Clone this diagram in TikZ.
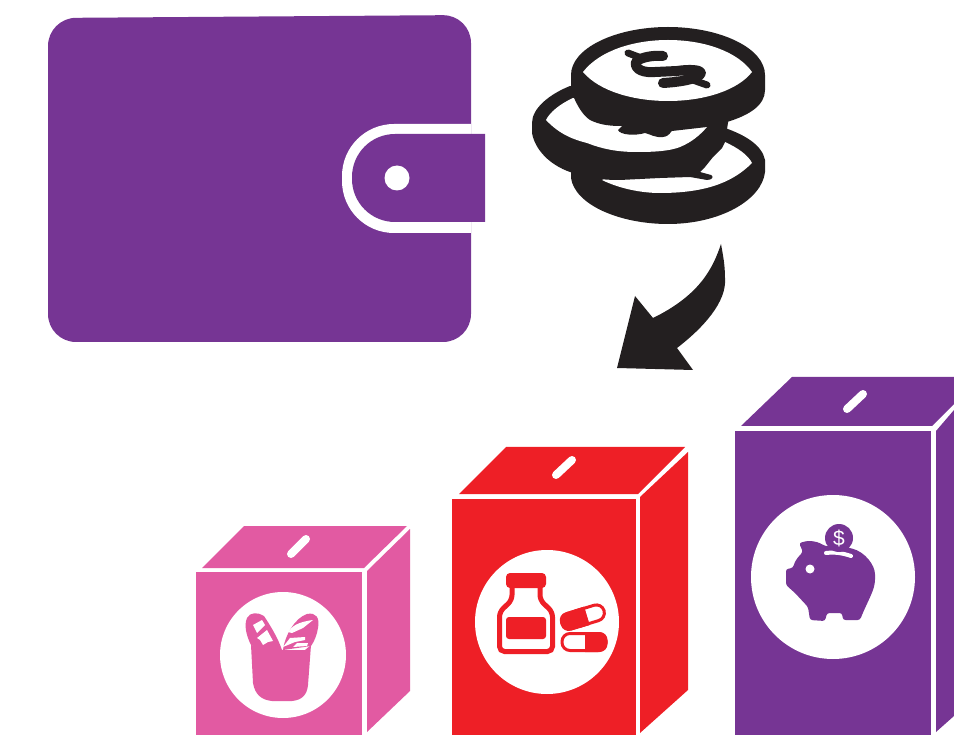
\documentclass[tikz,border=0pt]{standalone}
\usepackage{fontspec}
\setsansfont{Liberation Sans}
\definecolor{walletpurple}{HTML}{763594}
\definecolor{boxred}{HTML}{EE1F26}
\definecolor{boxpink}{HTML}{E25AA2}
\definecolor{coinblack}{HTML}{231F20}
\tikzset{
  slot/.style={white, line width=8pt, line cap=round},
  dollar/.style={coinblack, line width=10pt, line cap=round, line join=round}
}
\begin{document}
\begin{tikzpicture}[x=1pt, y=-1pt]
\useasboundingbox (0,0) rectangle (954,735);

% Wallet
\fill[walletpurple, rounded corners=28pt] (48,18) -- (471,15) -- (471,342) -- (48,342) -- cycle;
\fill[white, rounded corners=52pt] (471,124) -- (342,124) -- (342,233) -- (471,233);
\fill[white] (420,124) rectangle (471,233);
\fill[walletpurple, rounded corners=43pt] (485,134) -- (352,134) -- (352,222) -- (485,222);
\fill[walletpurple] (420,134) rectangle (485,222);
\fill[white] (397,178) circle (12.5);

% Coins, bottom one first
\fill[coinblack] (571,165) -- (571,178) .. controls (575,205) and (620,224) .. (668,224)
  .. controls (720,224) and (762,200) .. (765,172) -- (765,160)
  .. controls (762,145) and (745,135) .. (725,128) -- cycle;
\fill[white] (725,142) .. controls (738,148) and (748,155) .. (752,163)
  .. controls (735,180) and (710,193) .. (660,193) .. controls (640,193) and (618,188) .. (602,180)
  -- (650,150) -- cycle;
% Middle coin
\fill[coinblack] (570,86) .. controls (550,94) and (532,108) .. (532,123) -- (532,133)
  .. controls (535,150) and (550,165) .. (570,172) .. controls (590,178) and (600,180) .. (620,180)
  -- (660,178) -- (690,177) -- (707,180) .. controls (713,180) and (714,176) .. (711,175) -- (700,172)
  -- (705,167) -- (713,157) -- (722,148) -- (725,142) -- (730,110) -- cycle;
\fill[white] (573,98) .. controls (560,104) and (550,112) .. (546,120)
  .. controls (560,135) and (575,140) .. (587,143) .. controls (605,150) and (620,152) .. (637,152)
  .. controls (655,152) and (670,151) .. (680,147) .. controls (692,142) and (700,135) .. (707,127)
  -- (650,100) -- cycle;
% Top coin
\fill[coinblack] (571,75) -- (571,90) .. controls (575,102) and (582,115) .. (590,120)
  .. controls (600,125) and (610,126) .. (622,126) -- (618,130) .. controls (620,135) and (635,136) .. (645,133)
  .. controls (650,134) and (655,138) .. (663,137) .. controls (670,136) and (670,132) .. (672,131)
  -- (707,127) -- (727,122) .. controls (750,115) and (765,105) .. (765,90) -- (765,75)
  .. controls (765,48) and (720,27) .. (668,27) .. controls (616,27) and (571,48) .. (571,75) -- cycle;
\fill[white] (583,72) .. controls (600,50) and (635,40) .. (668,40) .. controls (705,40) and (738,52) .. (752,72)
  .. controls (738,90) and (705,101) .. (668,101) .. controls (635,101) and (600,92) .. (583,72) -- cycle;
\draw[dollar] (663,56) .. controls (655,55) and (640,57) .. (636,62) .. controls (634,70) and (645,73) .. (655,72)
  -- (677,71) .. controls (690,69) and (701,70) .. (701,73) .. controls (699,79) and (680,82) .. (663,83);
\draw[dollar, line width=7pt] (628,53) -- (644,59);
\draw[dollar, line width=7pt] (690,79) -- (707,85);

% Curved arrow
\fill[coinblack] (721,244) .. controls (713,268) and (700,295) .. (653,318) -- (635,296) -- (617,368)
  -- (693,370) -- (677,348) .. controls (703,328) and (727,302) .. (725,278)
  .. controls (725,265) and (723,255) .. (721,244) -- cycle;

% Pink box
\fill[boxpink] (196,572) rectangle (362,735);
\fill[boxpink] (202,568) -- (244,526) -- (407,526) -- (364,568) -- cycle;
\fill[boxpink] (367,571) -- (410,529) -- (410,691) -- (367,732) -- cycle;
\draw[slot] (291,554) -- (306,539);
\fill[white] (283,655) circle (63);
% Bag with bread
\fill[boxpink] (251,645) -- (253,683) .. controls (255,695) and (262,700) .. (272,701)
  -- (292,701) .. controls (302,700) and (307,695) .. (308,685) -- (311,645)
  -- (305,650) -- (283,650) -- (262,648) -- cycle;
\fill[boxpink] (251,645) .. controls (246,635) and (244,625) .. (247,618) .. controls (250,612) and (258,612) .. (264,616)
  .. controls (270,625) and (278,638) .. (282,650) -- (262,650) -- cycle;
\fill[boxpink] (283,650) .. controls (285,635) and (295,618) .. (307,614) .. controls (316,612) and (320,618) .. (318,628)
  .. controls (317,635) and (314,642) .. (311,646) -- cycle;
\fill[white] (253,625) -- (262,620) -- (265,625) -- (257,633) -- cycle;
\fill[white] (257,638) -- (267,630) -- (273,641) -- (268,642) -- (263,645) -- (260,640) -- cycle;
\fill[white] (288,632) .. controls (292,626) and (298,622) .. (313,620) -- (303,628) -- (292,633) -- cycle;
\fill[white] (283,647) -- (290,638) -- (305,637) -- (305,640) -- (295,642) -- cycle;
\fill[white] (293,647) -- (297,643) -- (308,643) -- (307,646) -- cycle;

% Red box
\fill[boxred] (452,499) rectangle (636,735);
\fill[boxred] (459,494) -- (506,447) -- (685,447) -- (638,494) -- cycle;
\fill[boxred] (640,497) -- (688,452) -- (688,690) -- (640,733) -- cycle;
\draw[slot] (556,475) -- (572,460);
\fill[white] (547,622) circle (72);
% Bottle
\draw[boxred, fill=white, line width=5pt, rounded corners=5pt] (512,586) -- (512,600) -- (499.5,612) -- (499.5,651.5)
  -- (552.5,651.5) -- (552.5,612) -- (540,600) -- (540,586);
\fill[boxred, rounded corners=4pt] (506,573) rectangle (546,588);
\fill[boxred, rounded corners=3pt] (506,617) rectangle (546,639);
% Pills
\begin{scope}[shift={(583,617)}, rotate=17]
  \draw[boxred, fill=white, line width=3pt, rounded corners=8pt] (-22,-8) rectangle (22,8);
  \fill[boxred, rounded corners=8pt] (4,-9.5) -- (-23.5,-9.5) -- (-23.5,9.5) -- (4,9.5);
  \fill[boxred] (-6,-9.5) rectangle (4,9.5);
\end{scope}
\begin{scope}[shift={(584,642)}]
  \draw[boxred, fill=white, line width=3pt, rounded corners=8pt] (-22,-8.5) rectangle (22,8.5);
  \fill[boxred, rounded corners=8pt] (1,-10) -- (23.5,-10) -- (23.5,10) -- (1,10);
  \fill[boxred] (1,-10) rectangle (10,10);
\end{scope}

% Purple box
\fill[walletpurple] (735,431) rectangle (931,735);
\fill[walletpurple] (741,426) -- (792,377) -- (954,377) -- (954,404) -- (932,426) -- cycle;
\fill[walletpurple] (936,431) -- (954,410) -- (954,716) -- (936,732) -- cycle;
\draw[slot] (847,409) -- (863,394);
\fill[white] (833,577) circle (82);
% Piggy bank
\fill[walletpurple, rounded corners=2.5pt] (799,543) -- (807,541) .. controls (815,541) and (820,543) .. (825,546)
  -- (850,548) .. controls (865,552) and (875,565) .. (875,577) .. controls (875,590) and (868,600) .. (860,620)
  -- (843,620) -- (842,613) -- (827,613) -- (825,621) -- (810,620) -- (808,607) -- (795,593)
  -- (786,585) -- (786,569) -- (793,568) .. controls (795,560) and (800,555) .. (803,552) -- cycle;
\fill[white] (810,569) circle (4.5);
\draw[white, line width=4pt, line cap=round] (826,553) .. controls (835,552) and (842,553) .. (851,556);
\fill[walletpurple] (839,538) circle (14);
\node[white, font=\sffamily, inner sep=0pt] (coinsign) at (839,538) {\fontsize{21}{21}\selectfont\$};

\end{tikzpicture}
\end{document}
